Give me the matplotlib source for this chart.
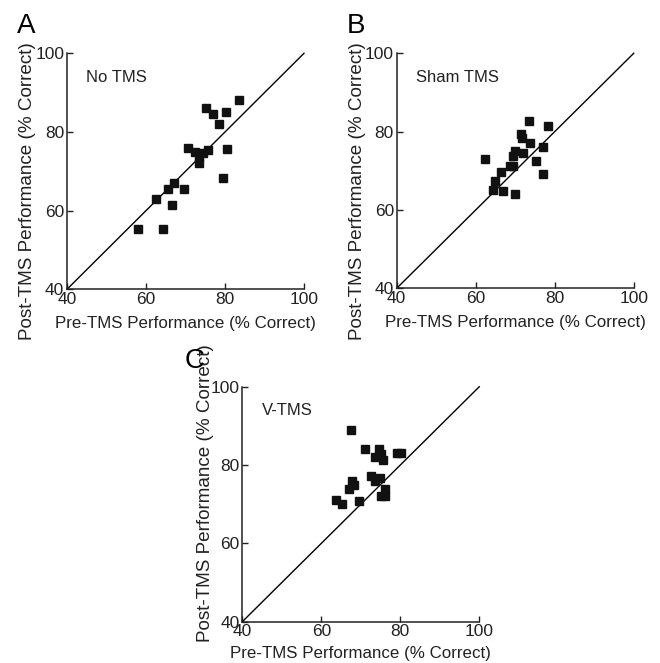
import matplotlib
matplotlib.use("Agg")
import matplotlib.pyplot as plt

plt.rcParams['font.family'] = ['Liberation Sans', 'DejaVu Sans']

# ---- data ----
notms_pre = [58.1, 64.2, 62.6, 66.5, 65.5, 67.0, 69.5, 70.6, 72.4, 73.5,
             73.5, 74.5, 75.6, 75.1, 77.0, 78.6, 80.2, 83.6, 80.6, 79.6]
notms_post = [55.3, 55.3, 62.9, 61.4, 65.4, 66.9, 65.4, 76.0, 75.0, 72.2,
              73.7, 74.6, 75.4, 86.0, 84.5, 82.0, 85.0, 88.1, 75.6, 68.4]

sham_pre = [62.4, 64.9, 64.3, 66.5, 67.0, 68.7, 69.5, 69.4, 70.0, 69.9,
            71.9, 71.4, 71.8, 73.5, 73.7, 75.3, 77.1, 77.1, 78.4]
sham_post = [73.0, 67.5, 65.0, 69.6, 64.8, 71.1, 71.1, 73.7, 75.1, 64.1,
             74.6, 79.4, 78.3, 82.6, 77.1, 72.6, 76.1, 69.1, 81.5]

vtms_pre = [71.0, 74.6, 75.2, 73.6, 75.6, 79.1, 80.3, 72.5, 73.6, 74.8,
            76.0, 75.0, 76.1, 67.7, 68.3, 67.0, 69.5, 65.3, 67.6, 63.6]
vtms_post = [84.0, 84.1, 82.7, 82.1, 81.4, 83.0, 83.0, 77.2, 76.0, 76.6,
             74.0, 72.0, 72.0, 76.0, 74.9, 74.0, 70.9, 70.1, 88.9, 71.0]

ticks = [40, 60, 80, 100]
identity = [40, 100]
xlabel = "Pre-TMS Performance (% Correct)"
ylabel = "Post-TMS Performance (% Correct)"

panels = [
    dict(letter="A", name="No TMS", x=notms_pre, y=notms_post,
         rect=[67 / 660, 1 - 289.3 / 663, 237 / 660, 236 / 663],
         letter_xy=(17 / 660, 1 - 33 / 663),
         ylab=(-0.146, 0.414), xlab=(0.5, -0.164)),
    dict(letter="B", name="Sham TMS", x=sham_pre, y=sham_post,
         rect=[396.7 / 660, 1 - 288.3 / 663, 237 / 660, 235 / 663],
         letter_xy=(347 / 660, 1 - 33 / 663),
         ylab=(-0.146, 0.414), xlab=(0.5, -0.166)),
    dict(letter="C", name="V-TMS", x=vtms_pre, y=vtms_post,
         rect=[242.3 / 660, 1 - 621.7 / 663, 237 / 660, 235 / 663],
         letter_xy=(185 / 660, 1 - 368 / 663),
         ylab=(-0.136, 0.545), xlab=(0.5, -0.156)),
]

fig = plt.figure(figsize=(6.6, 6.63), dpi=100)

for p in panels:
    ax = fig.add_axes(p["rect"])
    ax.plot(identity, identity, color="black", lw=1.0, clip_on=False)
    ax.plot(p["x"], p["y"], linestyle="none", marker="s", markersize=5.6,
            color="#111111", clip_on=False)
    ax.set_xlim(40, 100)
    ax.set_ylim(40, 100)
    ax.set_xticks(ticks)
    ax.set_yticks(ticks)
    for s in ("top", "right"):
        ax.spines[s].set_visible(False)
    for s in ("left", "bottom"):
        ax.spines[s].set_linewidth(1.1)
        ax.spines[s].set_color("#222222")
    ax.tick_params(direction="in", length=4, width=1.0, labelsize=12.5,
                   colors="#222222", pad=2)
    ax.set_xlabel(xlabel, fontsize=12.2, color="#222222")
    ax.set_ylabel(ylabel, fontsize=13.6, color="#222222")
    ax.xaxis.label.set_va("baseline")
    ax.yaxis.label.set_va("baseline")
    ax.xaxis.set_label_coords(*p["xlab"])
    ax.yaxis.set_label_coords(*p["ylab"])
    ax.text(0.082, 0.88, p["name"], transform=ax.transAxes, fontsize=12,
            va="baseline", ha="left", color="#222222")
    fig.text(p["letter_xy"][0], p["letter_xy"][1], p["letter"], fontsize=20,
             va="baseline", ha="left", color="black")

fig.savefig("out.png", dpi=100)
